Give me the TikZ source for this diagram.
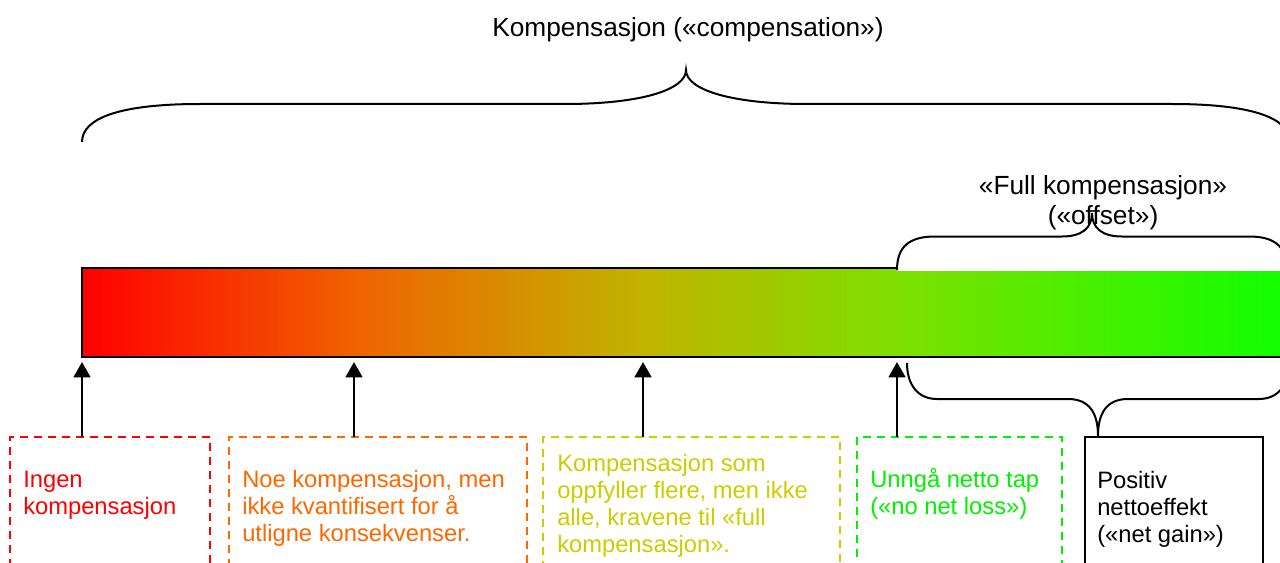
\documentclass[tikz,border=0pt]{standalone}
\usepackage{fontspec}
\setmainfont{Liberation Sans}
\usetikzlibrary{arrows.meta}
\definecolor{cred}{RGB}{255,0,0}
\definecolor{corange}{RGB}{255,102,0}
\definecolor{cyellow}{RGB}{204,204,0}
\definecolor{cgreen}{RGB}{0,240,0}
\pgfdeclarehorizontalshading{barshade}{100bp}{rgb(0bp)=(1,0,0); rgb(25bp)=(1,0,0); rgb(36.5bp)=(0.94,0.39,0); rgb(48bp)=(0.76,0.70,0); rgb(59bp)=(0.49,0.88,0); rgb(75bp)=(0.06,1,0); rgb(100bp)=(0.06,1,0)}
\tikzset{
  dbox/.style={draw=#1, line width=1.5pt, dash pattern=on 6pt off 4.5pt, anchor=north west, inner sep=0pt, outer sep=0pt, minimum height=112.5pt},
  sbox/.style={draw=black, line width=1.1pt, anchor=north west, inner sep=0pt, outer sep=0pt, minimum height=112.5pt},
  btext/.style={text=#1, anchor=base west, align=left, inner sep=0pt, font=\fontsize{17.8pt}{20.1pt}\selectfont},
  toptext/.style={anchor=base, align=center, inner sep=0pt, font=\fontsize{19.7pt}{22.5pt}\selectfont},
  barline/.style={line width=1.9pt, line cap=rect},
  bracel/.style={line width=1.5pt},
  arr/.style={line width=1.9pt, -{Triangle[width=12.5pt,length=11.5pt]}},
}
\begin{document}
\begin{tikzpicture}[x=0.75pt,y=-0.75pt]
\useasboundingbox (0,0) rectangle (1280,563);
% bar
\node[shade, shading=barshade, inner sep=0pt, outer sep=0pt, minimum width=906pt, minimum height=66.75pt] (bar) at (686,312.5) {};
\coordinate (barTopEnd) at (897,268);
\draw[barline] (barTopEnd) -- (bar.north west) -- (bar.south west) -- (bar.south east);
\fill[white] (896.5,262) rectangle (1295,270.5);
% top brace
\draw[bracel] (82,142) .. controls (82,118) and (120,104) .. (200,104) -- (565,104)
  .. controls (640,104) and (686,90) .. (686,70)
  .. controls (686,90) and (732,104) .. (807,104) -- (1172,104)
  .. controls (1252,104) and (1290,118) .. (1290,142);
% offset brace
\draw[bracel] (897,270) .. controls (897,246) and (910,236.5) .. (935,236.5) -- (1062,236.5)
  .. controls (1082,236.5) and (1092,228) .. (1092,213)
  .. controls (1092,228) and (1102,236.5) .. (1122,236.5) -- (1249,236.5)
  .. controls (1274,236.5) and (1287,246) .. (1287,270);
% lower brace
\draw[bracel] (907,363) .. controls (907,385) and (918,399) .. (937,399) -- (1068,399)
  .. controls (1090,399) and (1098,414) .. (1098,436)
  .. controls (1098,414) and (1106,399) .. (1128,399) -- (1259,399)
  .. controls (1278,399) and (1289,385) .. (1289,363);
% labels
\node[toptext] (ttop) at (688,37) {Kompensasjon («compensation»)};
\node[toptext] (toff) at (1103,224) {«Full kompensasjon»\\(«offset»)};
% boxes
\node[dbox=cred, minimum width=150pt] (b1) at (10,437) {};
\node[dbox=corange, minimum width=223.5pt] (b2) at (229,437) {};
\node[dbox=cyellow, minimum width=222.75pt] (b3) at (543,437) {};
\node[dbox=cgreen, minimum width=153.75pt] (b4) at (857,437) {};
\node[sbox, minimum width=133.5pt] (b5) at (1085,437) {};
\node[btext=cred] (l1) at (23,514) {Ingen\\kompensasjon};
\node[btext=corange] (l2) at (242,541) {Noe kompensasjon, men\\ikke kvantifisert for å\\utligne konsekvenser.};
\node[btext=cyellow] (l3) at (557,552) {Kompensasjon som\\oppfyller flere, men ikke\\alle, kravene til «full\\kompensasjon».};
\node[btext=cgreen] (l4) at (870,514) {Unngå netto tap\\(«no net loss»)};
\node[btext=black] (l5) at (1097,542) {Positiv\\nettoeffekt\\(«net gain»)};
% arrows
\coordinate (t1) at (82,362);
\coordinate (t2) at (354,362);
\coordinate (t3) at (643,362);
\coordinate (t4) at (897,362);
\draw[arr] (t1 |- b1.north) -- (t1);
\draw[arr] (t2 |- b2.north) -- (t2);
\draw[arr] (t3 |- b3.north) -- (t3);
\draw[arr] (t4 |- b4.north) -- (t4);
\end{tikzpicture}
\end{document}
